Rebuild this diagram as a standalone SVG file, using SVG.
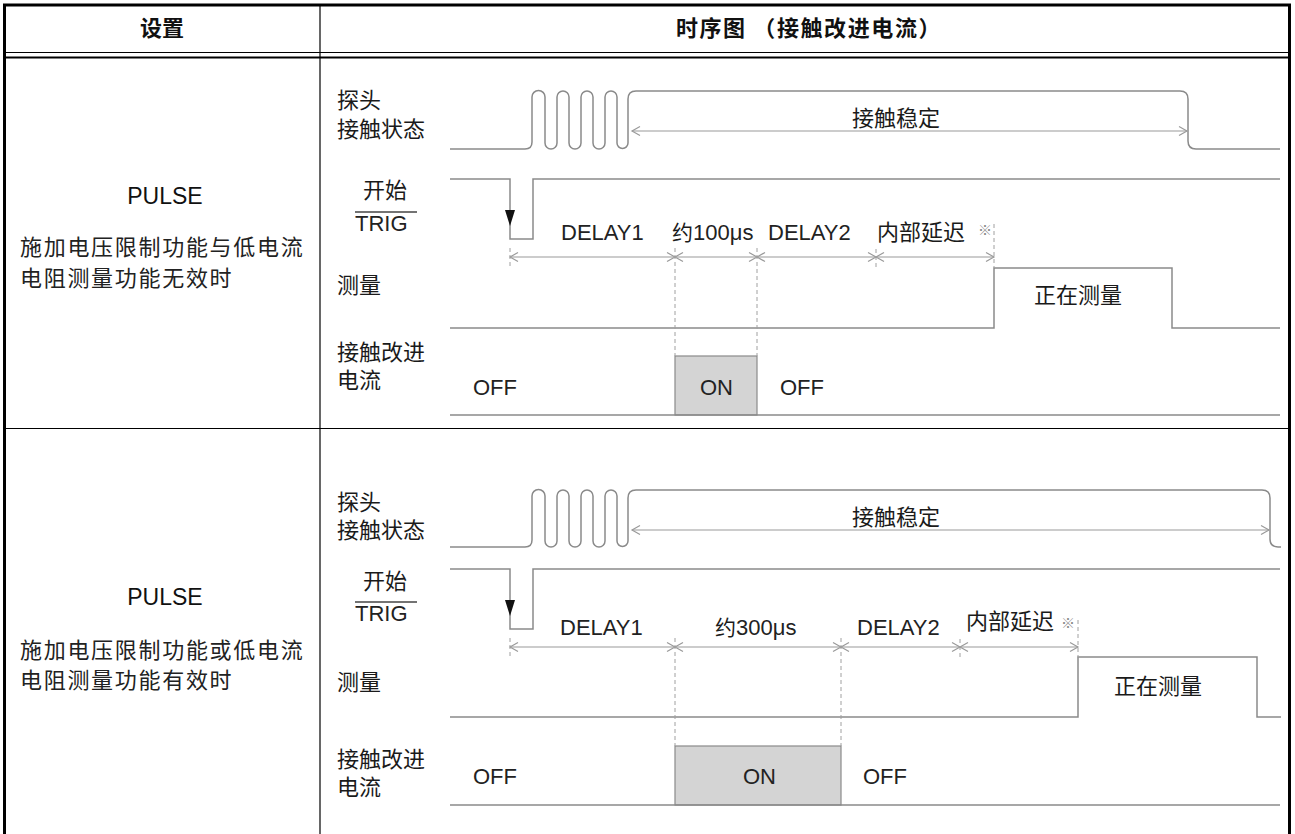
<svg xmlns="http://www.w3.org/2000/svg" width="1295" height="834" viewBox="0 0 1295 834">
<style>
.cjk{font-family:"Noto Sans CJK SC","Noto Sans",sans-serif;font-size:22px;fill:#1a1a1a}
.lat{font-family:"Liberation Sans",Arial,sans-serif;font-size:22px;fill:#222}
.hdr{font-family:"Noto Sans CJK SC",sans-serif;font-size:22px;font-weight:bold;fill:#111}
.left{font-family:"Noto Sans CJK SC",sans-serif;font-size:22px;letter-spacing:1.7px;fill:#222}
.pulse{font-family:"Liberation Sans",Arial,sans-serif;font-size:23px;fill:#111}
.wave{fill:none;stroke:#8a8a8a;stroke-width:1.5}
.dim{fill:none;stroke:#9a9a9a;stroke-width:1.2;marker-start:url(#chev);marker-end:url(#chev)}
.dash{fill:none;stroke:#a0a0a0;stroke-width:1;stroke-dasharray:4 3}
.note{font-family:"Noto Sans CJK SC",sans-serif;font-size:14px;fill:#888}
.tbl{fill:none;stroke:#000}
</style>
<defs>
<marker id="chev" viewBox="-10 -6 12 12" refX="0" refY="0" markerWidth="12" markerHeight="12" markerUnits="userSpaceOnUse" orient="auto-start-reverse">
<path d="M-8,-4.5 L0,0 L-8,4.5" fill="none" stroke="#9a9a9a" stroke-width="1.2"/>
</marker>
</defs>
<rect width="1295" height="834" fill="#fff"/>

<g id="table">
<rect class="tbl" x="4.5" y="5" width="1285" height="840" stroke-width="3"/>
<line class="tbl" x1="4" y1="52.5" x2="1290" y2="52.5" stroke-width="1.2"/>
<line class="tbl" x1="4" y1="57.5" x2="1290" y2="57.5" stroke-width="2"/>
<line class="tbl" x1="320" y1="5" x2="320" y2="834" stroke-width="1.2"/>
<line class="tbl" x1="4" y1="428.5" x2="1290" y2="428.5" stroke-width="1.2"/>
<text class="hdr" x="162" y="36" text-anchor="middle">设置</text>
<text class="hdr" x="809" y="36" text-anchor="middle" style="letter-spacing:1.6px" xml:space="preserve">时序图 （接触改进电流）</text>
</g>

<g id="setting-1">
<text class="pulse" x="165" y="204" text-anchor="middle">PULSE</text>
<text class="left" x="20" y="255">施加电压限制功能与低电流</text>
<text class="left" x="20" y="286">电阻测量功能无效时</text>
</g>

<g id="setting-2">
<text class="pulse" x="165" y="605" text-anchor="middle">PULSE</text>
<text class="left" x="20" y="658">施加电压限制功能或低电流</text>
<text class="left" x="20" y="688">电阻测量功能有效时</text>
</g>

<g id="timing-1">
<g id="probe-1">
<text class="cjk" x="337" y="108">探头</text>
<text class="cjk" x="337" y="137">接触状态</text>
<path class="wave" d="M450,149 H525 Q532,149 532,142 V97 A6.5,6.5 0 0 1 545,97 V143 A6,6 0 0 0 557,143 V97 A6,6 0 0 1 569,97 V143 A6,6 0 0 0 581,143 V97 A6,6 0 0 1 593,97 V143 A6,6 0 0 0 605,143 V97 A6,6 0 0 1 617,97 V143 A5.5,5.5 0 0 0 628,143 V99 Q628,91 636,91 H1180 Q1188,91 1188,99 V141 Q1188,149 1196,149 H1280"/>
<text class="cjk" x="852" y="126">接触稳定</text>
</g>
<g id="trig-1">
<text class="cjk" x="363" y="198">开始</text>
<line x1="355" y1="212" x2="417" y2="212" stroke="#444" stroke-width="1.5"/>
<text class="lat" x="355" y="231">TRIG</text>
<path class="wave" d="M450,179 H510 V239 H533 V179 H1280"/>
<polygon points="505,210 515,210 510,226" fill="#111"/>
</g>
<g id="meas-1">
<text class="cjk" x="337" y="293">测量</text>
<path class="wave" d="M450,328 H994 V268 H1172 V328 H1280"/>
<text class="cjk" x="1034" y="303">正在测量</text>
</g>
<g id="current-1">
<text class="cjk" x="337" y="360">接触改进</text>
<text class="cjk" x="337" y="388">电流</text>
<rect x="675" y="356" width="82" height="59" fill="#d4d4d4" stroke="#8a8a8a" stroke-width="1.2"/>
<path class="wave" d="M450,415 H1280"/>
<text class="lat" x="473" y="395">OFF</text>
<text class="lat" x="700" y="395">ON</text>
<text class="lat" x="780" y="395">OFF</text>
</g>
<g id="labels-1">
<text class="lat" x="561" y="240">DELAY1</text>
<text class="lat" x="672" y="240"><tspan class="cjk" style="font-size:21px">约</tspan>100μs</text>
<text class="lat" x="768" y="240">DELAY2</text>
<text class="cjk" x="877" y="240">内部延迟</text>
<text class="note" x="978" y="235">※</text>
</g>
</g>

<g id="timing-2">
<g id="probe-2">
<text class="cjk" x="337" y="510">探头</text>
<text class="cjk" x="337" y="538">接触状态</text>
<path class="wave" d="M450,547 H525 Q532,547 532,540 V496 A6.5,6.5 0 0 1 545,496 V541 A6,6 0 0 0 557,541 V496 A6,6 0 0 1 569,496 V541 A6,6 0 0 0 581,541 V496 A6,6 0 0 1 593,496 V541 A6,6 0 0 0 605,541 V496 A6,6 0 0 1 617,496 V541 A5.5,5.5 0 0 0 628,541 V498 Q628,490 636,490 H1262 Q1270,490 1270,498 V539 Q1270,547 1278,547 H1281"/>
<text class="cjk" x="852" y="525">接触稳定</text>
</g>
<g id="trig-2">
<text class="cjk" x="363" y="589">开始</text>
<line x1="355" y1="602" x2="417" y2="602" stroke="#444" stroke-width="1.5"/>
<text class="lat" x="355" y="621">TRIG</text>
<path class="wave" d="M450,569 H510 V629 H533 V569 H1280"/>
<polygon points="505,600 515,600 510,616" fill="#111"/>
</g>
<g id="meas-2">
<text class="cjk" x="337" y="690">测量</text>
<path class="wave" d="M450,717 H1078 V657 H1257 V717 H1281"/>
<text class="cjk" x="1114" y="694">正在测量</text>
</g>
<g id="current-2">
<text class="cjk" x="337" y="767">接触改进</text>
<text class="cjk" x="337" y="795">电流</text>
<rect x="675" y="746" width="166" height="59" fill="#d4d4d4" stroke="#8a8a8a" stroke-width="1.2"/>
<path class="wave" d="M450,805 H1280"/>
<text class="lat" x="473" y="784">OFF</text>
<text class="lat" x="743" y="784">ON</text>
<text class="lat" x="863" y="784">OFF</text>
</g>
<g id="labels-2">
<text class="lat" x="560" y="635">DELAY1</text>
<text class="lat" x="715" y="635"><tspan class="cjk" style="font-size:21px">约</tspan>300μs</text>
<text class="lat" x="857" y="635">DELAY2</text>
<text class="cjk" x="966" y="629">内部延迟</text>
<text class="note" x="1061" y="628">※</text>
</g>
</g>

<g id="connectors">
<path class="dim" d="M632,131 H1187"/>
<path class="dim" d="M510,257 H675"/>
<path class="dim" d="M675,257 H757"/>
<path class="dim" d="M757,257 H876"/>
<path class="dim" d="M876,257 H994"/>
<path class="dash" d="M510,248 V268 M675,248 V356 M757,248 V356 M876,249 V268 M994,224 V268"/>
<path class="dim" d="M632,530 H1269"/>
<path class="dim" d="M510,647 H675"/>
<path class="dim" d="M675,647 H841"/>
<path class="dim" d="M841,647 H960"/>
<path class="dim" d="M960,647 H1078"/>
<path class="dash" d="M510,638 V658 M675,638 V746 M841,638 V746 M960,639 V658 M1078,620 V658"/>
</g>
</svg>
